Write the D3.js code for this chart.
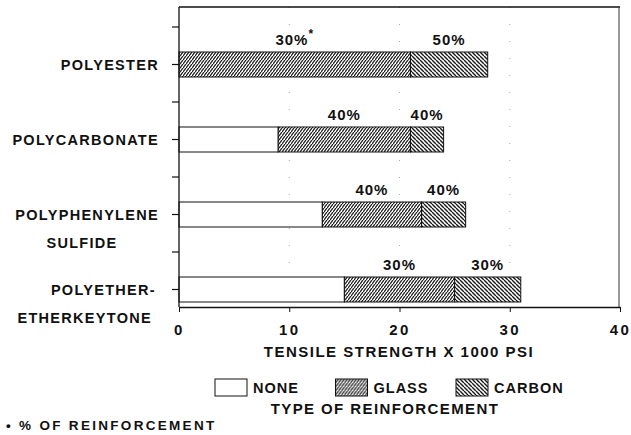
<!DOCTYPE html>
<meta charset="utf-8">
<style>
  body { margin: 0; background: #fff; }
  text { font-family: "Liberation Sans", Arial, sans-serif; font-weight: bold; fill: #111; }
  .bars rect { stroke: #111; stroke-width: 1px; }
  .xaxis path, .xaxis line { stroke: #111; }
</style>
<svg width="631" height="435"></svg>
<script src="https://d3js.org/d3.v7.min.js"></script>
<script>
var svg = d3.select("svg");

// data
var categories = ["POLYESTER", "POLYCARBONATE", "POLYPHENYLENE SULFIDE", "POLYETHER- ETHERKEYTONE"];
var labelLines = [["POLYESTER"], ["POLYCARBONATE"], ["POLYPHENYLENE", "SULFIDE"], ["POLYETHER-", "ETHERKEYTONE"]];
var noneVals   = [0, 9, 13, 15];
var glassVals  = [21, 12, 9, 10];
var carbonVals = [7, 3, 4, 6];
var glassPct   = ["30%", "40%", "40%", "30%"];
var carbonPct  = ["50%", "40%", "40%", "30%"];
var xTicks     = [0, 10, 20, 30, 40];
var legendKeys = ["NONE", "GLASS", "CARBON"];

var x = d3.scaleLinear().domain([0, 40]).range([179, 620]);
var y = d3.scaleBand().domain(categories).range([27, 327]).paddingInner(2 / 3).paddingOuter(1 / 3);

// hatch patterns (diagonal lines across a w x h tile)
var defs = svg.append("defs");
function hatch(id, w, h, up, sw) {
  var p = defs.append("pattern").attr("id", id)
    .attr("patternUnits", "userSpaceOnUse")
    .attr("width", w).attr("height", h);
  p.append("rect").attr("width", w).attr("height", h).attr("fill", "#fff");
  var d = up
    ? "M0," + h + "L" + w + ",0M" + (-w) + "," + h + "L0,0M" + w + "," + (2 * h) + "L" + (2 * w) + "," + h
    : "M0,0L" + w + "," + h + "M" + (-w) + ",0L0," + h + "M" + w + ",0L" + (2 * w) + "," + h;
  p.append("path").attr("d", d).attr("stroke", "#1a1a1a").attr("stroke-width", sw);
}
hatch("glass", 3, 4, true, 1.3);
hatch("carbon", 4, 4, false, 1.4);
var fills = ["#fff", "url(#glass)", "url(#carbon)"];

// faint dotted grid seen in the scan
svg.append("g").selectAll("line").data([10, 20, 30]).enter().append("line")
  .attr("x1", d => x(d)).attr("x2", d => x(d))
  .attr("y1", 7).attr("y2", 307)
  .attr("stroke", "#aaa").attr("stroke-width", 1).attr("stroke-dasharray", "1,16");

// stack rows
var rows = categories.map(function(c, i) {
  var segs = [noneVals[i], glassVals[i], carbonVals[i]];
  var start = 0;
  return segs.map(function(v, k) {
    var s = { cat: c, k: k, x0: start, x1: start + v };
    start += v;
    return s;
  });
});

var bars = svg.append("g").attr("class", "bars");
rows.forEach(function(segs) {
  bars.selectAll(null)
    .data(segs.filter(s => s.x1 > s.x0))
    .enter().append("rect")
    .attr("x", s => x(s.x0))
    .attr("y", s => y(s.cat))
    .attr("width", s => x(s.x1) - x(s.x0))
    .attr("height", y.bandwidth())
    .attr("fill", s => fills[s.k]);
});

// percent labels over glass and carbon segments
rows.forEach(function(segs, i) {
  var top = y(categories[i]) - 7;
  var g = svg.append("text").attr("x", x((segs[1].x0 + segs[1].x1) / 2)).attr("y", top)
    .attr("text-anchor", "middle").attr("font-size", 15).attr("letter-spacing", 1).text(glassPct[i]);
  if (i === 0) {
    // footnote marker on the first value
    g.append("tspan").attr("dy", -7).attr("font-size", 12).text("*");
  }
  svg.append("text").attr("x", x((segs[2].x0 + segs[2].x1) / 2)).attr("y", top)
    .attr("text-anchor", "middle").attr("font-size", 15).attr("letter-spacing", 1).text(carbonPct[i]);
});

// frame
svg.append("line").attr("x1", x(0)).attr("x2", x(40)).attr("y1", 7).attr("y2", 7)
  .attr("stroke", "#111").attr("stroke-width", 1.3);
svg.append("line").attr("x1", x(40) - 1).attr("x2", x(40) - 1).attr("y1", 7).attr("y2", 307)
  .attr("stroke", "#333").attr("stroke-width", 1);
svg.append("line").attr("x1", x(0)).attr("x2", x(0)).attr("y1", 7).attr("y2", 307)
  .attr("stroke", "#111").attr("stroke-width", 1.3);

// left ticks: at each bar and between bars
var yTicks = [];
categories.forEach(function(c) {
  yTicks.push(y(c) - 25);
  yTicks.push(y(c) + y.bandwidth() / 2);
});
svg.append("g").selectAll("line").data(yTicks).enter().append("line")
  .attr("x1", x(0) - 7).attr("x2", x(0)).attr("y1", d => d).attr("y2", d => d)
  .attr("stroke", "#111").attr("stroke-width", 1.2);

// category labels
var lineAlign = [[["end", 159]], [["end", 159]], [["end", 159], ["middle", 82]], [["end", 156], ["end", 152]]];
labelLines.forEach(function(lines, i) {
  var cy = y(categories[i]) + y.bandwidth() / 2;
  lines.forEach(function(t, j) {
    svg.append("text")
      .attr("x", lineAlign[i][j][1]).attr("y", cy + j * 28.5)
      .attr("dy", "0.36em").attr("text-anchor", lineAlign[i][j][0])
      .attr("font-size", 14.5).attr("letter-spacing", 1.3).text(t);
  });
});

// x axis
var xAxis = svg.append("g").attr("class", "xaxis")
  .attr("transform", "translate(0,307)")
  .call(d3.axisBottom(x).tickValues(xTicks).tickSize(5).tickSizeOuter(0).tickPadding(12));
xAxis.attr("font-family", null);
xAxis.selectAll("text").attr("font-size", 15).attr("letter-spacing", 2.5).style("fill", "#111");
xAxis.select(".domain").attr("stroke-width", 1.3);

svg.append("text").attr("x", 399).attr("y", 352).attr("dy", "0.36em")
  .attr("text-anchor", "middle").attr("font-size", 15).attr("letter-spacing", 1.5)
  .text("TENSILE STRENGTH X 1000 PSI");

// legend
var lx = d3.scalePoint().domain(legendKeys).range([215, 456]);
var lg = svg.append("g").selectAll("g").data(legendKeys).enter().append("g")
  .attr("transform", d => "translate(" + lx(d) + ",379)");
lg.append("rect").attr("width", 32).attr("height", 17)
  .attr("fill", (d, i) => fills[i]).attr("stroke", "#111").attr("stroke-width", 1);
lg.append("text").attr("x", 38).attr("y", 9).attr("dy", "0.36em")
  .attr("font-size", 14.5).attr("letter-spacing", 1).text(d => d);

svg.append("text").attr("x", 385).attr("y", 409).attr("dy", "0.36em")
  .attr("text-anchor", "middle").attr("font-size", 15).attr("letter-spacing", 1.4)
  .text("TYPE OF REINFORCEMENT");

svg.append("text").attr("x", 6).attr("y", 425).attr("dy", "0.36em")
  .attr("font-size", 13.5).attr("letter-spacing", 2.3)
  .text("\u2022 % OF REINFORCEMENT");
</script>
